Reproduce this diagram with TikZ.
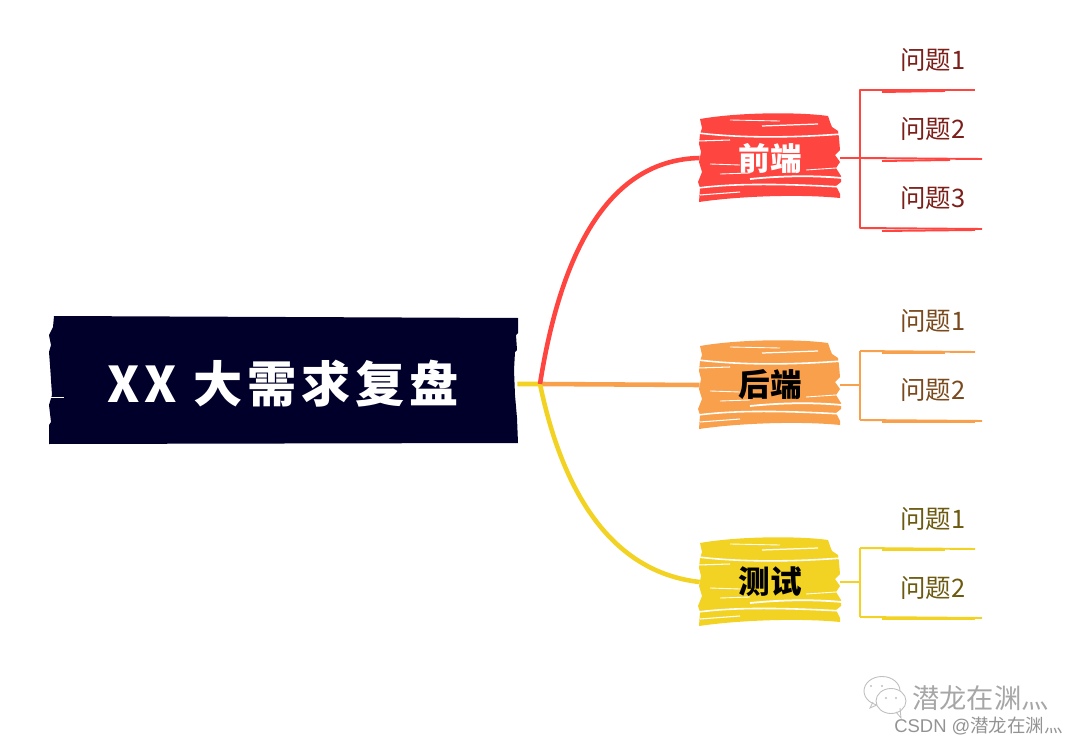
\documentclass[tikz,border=0pt]{standalone}
\usepackage{fontspec}
\setmainfont{Liberation Sans}
\newfontfamily\cjk{Noto Sans CJK SC}
\newfontfamily\cjkwide[LetterSpace=10]{Noto Sans CJK SC}
\definecolor{navy}{HTML}{00002B}
\definecolor{redline}{HTML}{FF4540}
\definecolor{orangeline}{HTML}{F9A04C}
\definecolor{yellowline}{HTML}{F2D323}
\definecolor{redtext}{HTML}{7A1F1A}
\definecolor{orangetext}{HTML}{7A4A1E}
\definecolor{yellowtext}{HTML}{6B5A10}
\tikzset{
  rootbox/.style={text=white,font=\cjkwide\fontsize{28}{28}\selectfont\bfseries,minimum width=9.36cm,minimum height=2.5cm,inner sep=0pt},
  midbox/.style={font=\cjk\fontsize{18}{18}\selectfont\bfseries,minimum width=2.8cm,minimum height=1.74cm,inner sep=0pt},
  leaf/.style={font=\cjk\fontsize{14.5}{14.5}\selectfont,inner sep=0pt},
  branch/.style={line width=1.1pt,line join=round},
  trunk/.style={line width=2.6pt},
  mark line/.style={gray!50,line width=.5pt}
}
% rough painted block, centre at (#1,#2)
\newcommand{\scribblebox}[3]{
  \begin{scope}[shift={(#1,#2)}]
    \fill[#3] (-70,-39) .. controls (-30,-46) and (30,-46) .. (58,-42) -- (60,-36) -- (62,-31) -- (68,-27)
      -- (69,-20) -- (70,-8) -- (65,-3) -- (70,4) -- (66,10) -- (71,18) -- (71,24) -- (66,28) -- (70,36) -- (70,40)
      .. controls (30,36) and (-30,38) .. (-71,44) -- (-70,30) -- (-72,24) -- (-68,14) -- (-71,4)
      -- (-69,-6) -- (-71,-14) -- (-70,-24) -- (-68,-30) -- cycle;
    \draw[white,line width=.9pt] (-72,-25) .. controls (-30,-20) and (20,-20) .. (72,-24);
    \draw[white,line width=.6pt] (-72,-17) -- (-40,-18);
    \draw[white,line width=.7pt] (-8,-32) -- (48,-34);
    \draw[white,line width=.5pt] (-40,-38) -- (10,-37);
    \draw[white,line width=1pt] (-20,21) .. controls (20,17) and (50,18) .. (72,20);
    \draw[white,line width=.9pt] (-72,30) .. controls (-40,26) and (0,25) .. (72,29);
    \draw[white,line width=.5pt] (-60,6) -- (-30,7);
    \draw[white,line width=.5pt] (36,12) -- (66,10);
    \draw[white,line width=.5pt] (-50,16) -- (-20,15);
    \draw[white,line width=.6pt] (-70,37) -- (-30,34);
  \end{scope}
}
\begin{document}
\begin{tikzpicture}[x=0.02cm,y=-0.02cm]
  \useasboundingbox (0,0) rectangle (1080,747);
  % title block
  \fill[navy] (54,316) -- (518,318) -- (518,333) -- (516,335) -- (517,350) -- (515,352) -- (514,370)
    -- (515,395) -- (517,418) -- (518,443) -- (49,444) -- (49,425) -- (51,422) -- (49,405)
    -- (52,395) -- (50,365) -- (49,352) -- (51,345) -- (49,335) -- (53,327) -- cycle;
  \draw[white,line width=.3pt] (51,397) -- (64,397);
  \scribblebox{770}{158}{redline}
  \scribblebox{770}{385}{orangeline}
  \scribblebox{770}{582}{yellowline}
  \draw
    (283,384) node[rootbox] (root){XX 大需求复盘}
    (770,158) node[midbox,text=white] (front){前端}
    (770,385) node[midbox] (back){后端}
    (770,582) node[midbox] (test){测试}
    (933,60) node[leaf,text=redtext] (f1){问题1}
    (933,129) node[leaf,text=redtext] (f2){问题2}
    (933,198) node[leaf,text=redtext] (f3){问题3}
    (933,321) node[leaf,text=orangetext] (b1){问题1}
    (933,390) node[leaf,text=orangetext] (b2){问题2}
    (933,519) node[leaf,text=yellowtext] (t1){问题1}
    (933,588) node[leaf,text=yellowtext] (t2){问题2}
    (540,384) coordinate (hub)
    (860,158) coordinate (fhub)
    (860,385) coordinate (bhub)
    (860,582) coordinate (thub);
  % main branches
  \draw[trunk,orangeline] (hub) -- (back.west);
  \draw[trunk,yellowline] (root.east) -- (hub) .. controls (562,490) and (610,572) .. (test.west);
  \draw[trunk,redline] (hub) .. controls (558,270) and (600,160) .. (front.west);
  % leaf lines
  \begin{scope}[branch,redline]
    \draw (front.east) -- (fhub);
    \draw (fhub) -- (860,90) -- (975,90);
    \draw (fhub) -- (982,159);
    \draw (fhub) -- (860,228) -- (982,229);
    \draw (882,92) -- (945,91);
    \draw (882,161) -- (950,160);
    \draw (882,231) -- (975,230);
  \end{scope}
  \begin{scope}[branch,orangeline]
    \draw (back.east) -- (bhub);
    \draw (860,351) -- (860,420);
    \draw (860,351) -- (975,352);
    \draw (860,420) -- (982,421);
    \draw (882,353) -- (945,353);
    \draw (882,422) -- (975,422);
  \end{scope}
  \begin{scope}[branch,yellowline]
    \draw (test.east) -- (thub);
    \draw (860,548) -- (860,617);
    \draw (860,548) -- (975,549);
    \draw (860,617) -- (982,618);
    \draw (882,550) -- (945,550);
    \draw (882,619) -- (975,619);
  \end{scope}
  % watermark
  \draw[mark line] (873,702) -- (870,708) -- (879,704);
  \draw[mark line] (882,691) ellipse (18 and 14.5);
  \draw[mark line,fill=white] (891,701) ellipse (15 and 12.5);
  \draw[mark line] (896,712) -- (901,718) -- (900,708);
  \fill[gray!50] (871,686) circle (1.2) (882,686) circle (1.2) (886,698) circle (1.2) (896,698) circle (1.2);
  \draw
    (912,698) node[anchor=west,inner sep=0pt,text=gray!70,font=\cjk\fontsize{15.5}{15.5}\selectfont] (mark){潜龙在渊灬}
    (894,726) node[anchor=west,inner sep=0pt,text=gray!85,font=\fontsize{10.5}{10.5}\selectfont] (csdn){CSDN @{\cjk 潜龙在渊灬}};
\end{tikzpicture}
\end{document}
